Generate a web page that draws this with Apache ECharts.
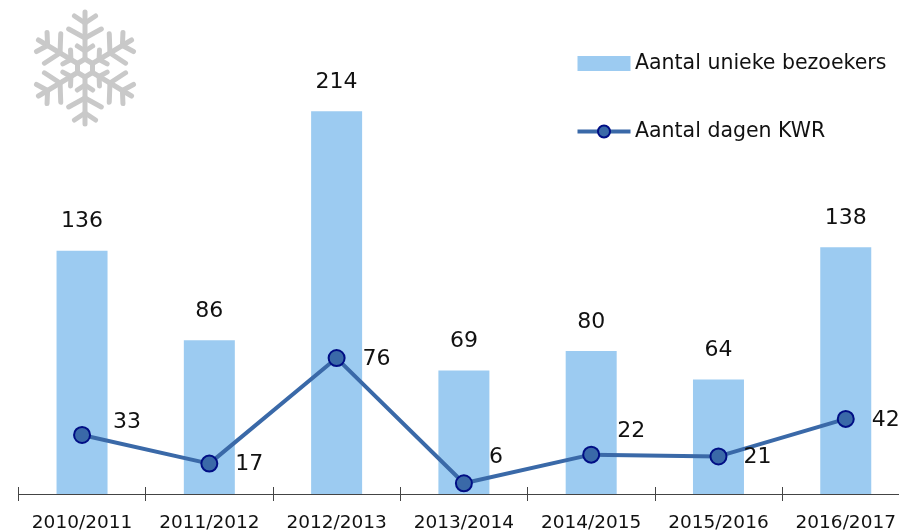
<!DOCTYPE html>
<html><head><meta charset="utf-8">
<style>html,body{margin:0;padding:0;background:#fff}#c{width:899px;height:531px}</style>
<script src="https://cdn.jsdelivr.net/npm/echarts@6/dist/echarts.min.js"></script>
</head><body><div id="c"></div>
<script>
const categories=['2010/2011','2011/2012','2012/2013','2013/2014','2014/2015','2015/2016','2016/2017'];
const bezoekers=[136,86,214,69,80,64,138];
const dagenKWR=[33,17,76,6,22,21,42];
const FONT='"DejaVu Sans"';
const labelOffsets=[[45,-13],[40,1],[40,1],[32,-26],[40,-23],[39,1],[40,1]];

function flake(cx,cy){
  const arm=[[0,9,0,56],[0,45,-11,52],[0,45,11,52],[0,30,-17,39],[0,30,17,39],[0,17,-8,22],[0,17,8,22],[0,9,7.8,4.5]];
  const sx=0.96;
  const out=[];
  for(let k=0;k<6;k++){
    const a=k*Math.PI/3,c=Math.cos(a),s=Math.sin(a);
    arm.forEach(([x1,r1,x2,r2])=>out.push({type:'line',silent:true,
      shape:{x1:cx+sx*(x1*c+r1*s),y1:cy+x1*s-r1*c,x2:cx+sx*(x2*c+r2*s),y2:cy+x2*s-r2*c},
      style:{stroke:'#c9c9c9',lineWidth:5,lineCap:'round'}}));
  }
  return out;
}
const chart=echarts.init(document.getElementById('c'),null,{renderer:'canvas'});
const axisBase={type:'category',data:categories,position:'bottom',boundaryGap:true,
  axisLine:{show:true,lineStyle:{color:'#444',width:1}}};
chart.setOption({
  animation:false,
  backgroundColor:'#fff',
  grid:{left:18.4,top:20,width:891,bottom:37,containLabel:false,outerBoundsMode:'none'},
  legend:{orient:'vertical',left:575.5,top:53,padding:0,itemWidth:53,itemHeight:15,itemGap:47,
    selectedMode:false,
    lineStyle:{width:4,color:'#3a69a8'},
    textStyle:{fontFamily:FONT,fontSize:20.5,color:'#111',padding:[0,0,0,-0.5]},
    data:[{name:'Aantal unieke bezoekers',icon:'rect'},{name:'Aantal dagen KWR'}]},
  xAxis:[
    {...axisBase,axisTick:{show:true,alignWithLabel:false,length:7,lineStyle:{color:'#444'}},
      axisLabel:{fontFamily:FONT,fontSize:18.5,color:'#111',margin:20,interval:0}},
    {...axisBase,axisTick:{show:true,inside:true,length:7,lineStyle:{color:'#444'}},axisLabel:{show:false}}
  ],
  yAxis:{type:'value',min:0,max:265,show:false,splitLine:{show:false}},
  series:[
    {name:'Aantal unieke bezoekers',type:'bar',data:bezoekers,barWidth:51,
      itemStyle:{color:'#9ccbf1'},
      label:{show:true,position:'top',distance:18,fontFamily:FONT,fontSize:22,color:'#111'}},
    {name:'Aantal dagen KWR',type:'line',data:dagenKWR.map((v,i)=>({value:v,
        label:{offset:labelOffsets[i]}})),
      lineStyle:{color:'#3a69a8',width:4},
      symbol:'circle',symbolSize:16,
      itemStyle:{color:'#3a69a8',borderColor:'#000e85',borderWidth:2},
      label:{show:true,position:'inside',fontFamily:FONT,fontSize:22,color:'#111'}}
  ],
  graphic:flake(85,68)
});
</script></body></html>
